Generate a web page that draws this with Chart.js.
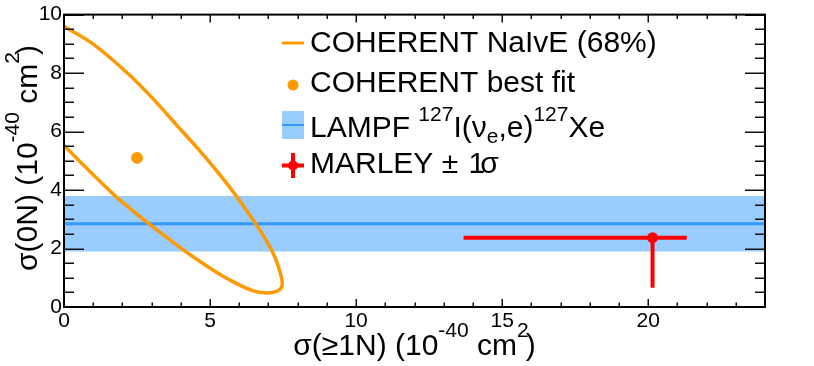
<!DOCTYPE html>
<html><head><meta charset="utf-8">
<script src="https://cdn.jsdelivr.net/npm/chart.js@4/dist/chart.umd.min.js"></script>
<style>html,body{margin:0;padding:0;background:#fff;overflow:hidden}canvas{display:block}</style>
</head><body>
<canvas id="c" width="814" height="366"></canvas>
<script>
// ---- data ----
const contourX = [0, 1.0, 2.15, 3.06, 3.91, 4.6, 5.34, 5.91, 6.54, 6.85, 7.11, 7.28, 7.40, 7.47, 7.44, 7.30, 6.94, 6.48, 5.80, 5.11, 4.43, 3.97, 2.89, 2.15, 1.75, 1.0, 0];
const contourY = [9.6, 8.99, 8.02, 7.11, 6.16, 5.40, 4.52, 3.78, 2.88, 2.40, 1.94, 1.55, 1.18, 0.85, 0.66, 0.54, 0.48, 0.55, 0.86, 1.26, 1.71, 2.04, 2.86, 3.46, 3.80, 4.52, 5.52];
const bestFitX = [2.5];
const bestFitY = [5.1];
const lampfCentral = 2.85;
const lampfLow = 1.9;
const lampfHigh = 3.8;
const marleyX = 20.15;
const marleyY = 2.37;
const marleyXErr = [13.68, 21.32];
const marleyYErr = [0.66, 2.37];
const xRange = [0, 24];
const yRange = [0, 10];
const xTickValues = [0, 5, 10, 15, 20];
const yTickValues = [0, 2, 4, 6, 8, 10];
const xMinorStep = 1;
const yMinorStep = 0.5;

const ORANGE = '#FF9900', BLUE = '#3399FF', LBLUE = '#99CCFF', RED = '#FF0000';
const FONT = '"Liberation Sans", Arial, Helvetica, sans-serif';
const TS = 30;

const contourPts = contourX.map((x, i) => ({x, y: contourY[i]}));
const bestPts = bestFitX.map((x, i) => ({x, y: bestFitY[i]}));

function drawRich(ctx, x, y, segs, size, align, supRaise) {
  let total = 0;
  const parts = segs.map(s => {
    const fs = s.m ? size * 0.7 : size;
    ctx.font = fs + 'px ' + FONT;
    const w = ctx.measureText(s.t).width + (s.dx || 0);
    total += w;
    return {t: s.t, m: s.m, fs, w};
  });
  let cx = align === 'center' ? x - total / 2 : x;
  ctx.textBaseline = 'alphabetic';
  ctx.textAlign = 'left';
  parts.forEach(p => {
    ctx.font = p.fs + 'px ' + FONT;
    let dy = 0;
    if (p.m === 'sup') dy = -size * supRaise;
    if (p.m === 'sub') dy = size * 0.21;
    ctx.fillText(p.t, cx, y + dy);
    cx += p.w;
  });
}

const decor = {
  id: 'decor',
  afterDraw(chart) {
    const ctx = chart.ctx;
    const xs = chart.scales.x, ys = chart.scales.y;
    const a = chart.chartArea;
    ctx.save();
    // ticks
    ctx.strokeStyle = '#111';
    ctx.lineWidth = 1.5;
    ctx.beginPath();
    for (let v = yRange[0]; v <= yRange[1] + 1e-9; v += yMinorStep) {
      const py = Math.round(ys.getPixelForValue(v)) + 0.25;
      const major = yTickValues.includes(Math.round(v * 100) / 100);
      const len = major ? 20 : 10;
      ctx.moveTo(a.left, py); ctx.lineTo(a.left + len, py);
      ctx.moveTo(a.right, py); ctx.lineTo(a.right - len, py);
    }
    for (let v = xRange[0]; v <= xRange[1] + 1e-9; v += xMinorStep) {
      const px = Math.round(xs.getPixelForValue(v)) + 0.25;
      const major = xTickValues.includes(v);
      const len = major ? 8 : 4.5;
      ctx.moveTo(px, a.bottom); ctx.lineTo(px, a.bottom - len);
      ctx.moveTo(px, a.top); ctx.lineTo(px, a.top + len);
    }
    ctx.stroke();
    // frame
    ctx.strokeStyle = '#000';
    ctx.lineWidth = 2;
    ctx.strokeRect(a.left, a.top, a.right - a.left, a.bottom - a.top);

    // axis titles
    ctx.fillStyle = '#000';
    drawRich(ctx, (a.left + a.right) / 2, 355, [
      {t: 'σ(≥1N) (10'}, {t: '-40', m: 'sup'}, {t: ' cm'}, {t: '2', m: 'sup', dx: -3}, {t: ')'}
    ], TS, 'center', 0.6);
    ctx.save();
    ctx.translate(37, 158);
    ctx.rotate(-Math.PI / 2);
    drawRich(ctx, 0, 0, [
      {t: 'σ(0N) (10'}, {t: '-40', m: 'sup'}, {t: ' cm'}, {t: '2', m: 'sup', dx: -3}, {t: ')'}
    ], TS, 'center', 0.6);
    ctx.restore();

    // legend
    const lx0 = 282, lx1 = 304, lxc = 293, tx = 310;
    // row 1
    ctx.strokeStyle = ORANGE; ctx.lineWidth = 3;
    ctx.beginPath(); ctx.moveTo(lx0, 43); ctx.lineTo(lx1, 43); ctx.stroke();
    drawRich(ctx, tx, 52, [{t: 'COHERENT NaIvE (68%)'}], TS, 'left', 0.5);
    // row 2
    ctx.fillStyle = ORANGE;
    ctx.beginPath(); ctx.arc(lxc, 85, 5.5, 0, Math.PI * 2); ctx.fill();
    ctx.fillStyle = '#000';
    drawRich(ctx, tx, 92, [{t: 'COHERENT best fit'}], TS, 'left', 0.5);
    // row 3
    ctx.fillStyle = LBLUE;
    ctx.fillRect(lx0, 111, lx1 - lx0, 28);
    ctx.strokeStyle = BLUE; ctx.lineWidth = 2;
    ctx.beginPath(); ctx.moveTo(lx0, 125); ctx.lineTo(lx1, 125); ctx.stroke();
    ctx.fillStyle = '#000';
    drawRich(ctx, tx, 137, [
      {t: 'LAMPF '}, {t: '127', m: 'sup'}, {t: 'I(ν'}, {t: 'e', m: 'sub'}, {t: ',e)'}, {t: '127', m: 'sup'}, {t: 'Xe'}
    ], TS, 'left', 0.52);
    // row 4
    ctx.strokeStyle = RED; ctx.lineWidth = 4;
    ctx.beginPath();
    ctx.moveTo(lx0, 165.5); ctx.lineTo(lx1, 165.5);
    ctx.moveTo(lxc, 153); ctx.lineTo(lxc, 178);
    ctx.stroke();
    ctx.fillStyle = RED;
    ctx.beginPath(); ctx.arc(lxc, 165.5, 5, 0, Math.PI * 2); ctx.fill();
    ctx.fillStyle = '#000';
    drawRich(ctx, tx, 173, [{t: 'MARLEY ± ', dx: 2}, {t: '1', dx: -5}, {t: 'σ'}], TS, 'left', 0.5);
    ctx.restore();
  }
};

new Chart(document.getElementById('c'), {
  type: 'scatter',
  data: {
    datasets: [
      {label: 'MARLEY', data: [{x: marleyX, y: marleyY}], pointRadius: 5.5, pointBackgroundColor: RED, pointBorderWidth: 0, showLine: false},
      {label: 'MARLEY x err', data: marleyXErr.map(x => ({x, y: marleyY})), showLine: true, borderColor: RED, borderWidth: 4, pointRadius: 0, borderCapStyle: 'butt'},
      {label: 'MARLEY y err', data: marleyYErr.map(y => ({x: marleyX, y})), showLine: true, borderColor: RED, borderWidth: 4, pointRadius: 0, borderCapStyle: 'butt'},
      {label: 'COHERENT best fit', data: bestPts, pointRadius: 6, pointBackgroundColor: ORANGE, pointBorderWidth: 0, showLine: false},
      {label: 'COHERENT NaIvE (68%)', data: contourPts, showLine: true, borderColor: ORANGE, borderWidth: 3.5, pointRadius: 0, tension: 0.3, borderJoinStyle: 'round'},
      {label: 'LAMPF', data: xRange.map(x => ({x, y: lampfCentral})), showLine: true, borderColor: BLUE, borderWidth: 3, pointRadius: 0},
      {label: 'LAMPF band', data: xRange.map(x => ({x, y: lampfHigh})), showLine: true, borderWidth: 0, borderColor: 'rgba(0,0,0,0)', backgroundColor: LBLUE, fill: {value: lampfLow}, pointRadius: 0}
    ]
  },
  options: {
    responsive: false,
    animation: false,
    devicePixelRatio: 1,
    events: [],
    layout: {padding: {top: 13, right: 49, left: 0, bottom: 0}},
    plugins: {legend: {display: false}, tooltip: {enabled: false}},
    scales: {
      x: {
        type: 'linear', min: xRange[0], max: xRange[1],
        grid: {display: false, drawTicks: false}, border: {display: false},
        ticks: {color: '#000', font: {family: FONT, size: 21}, padding: 2, maxRotation: 0},
        afterBuildTicks: s => { s.ticks = xTickValues.map(v => ({value: v})); },
        afterFit: s => { s.height = 59; }
      },
      y: {
        type: 'linear', min: yRange[0], max: yRange[1],
        grid: {display: false, drawTicks: false}, border: {display: false},
        ticks: {color: '#000', font: {family: FONT, size: 21}, padding: 2},
        afterBuildTicks: s => { s.ticks = yTickValues.map(v => ({value: v})); },
        afterFit: s => { s.width = 64; }
      }
    }
  },
  plugins: [decor]
});
</script>
</body></html>
